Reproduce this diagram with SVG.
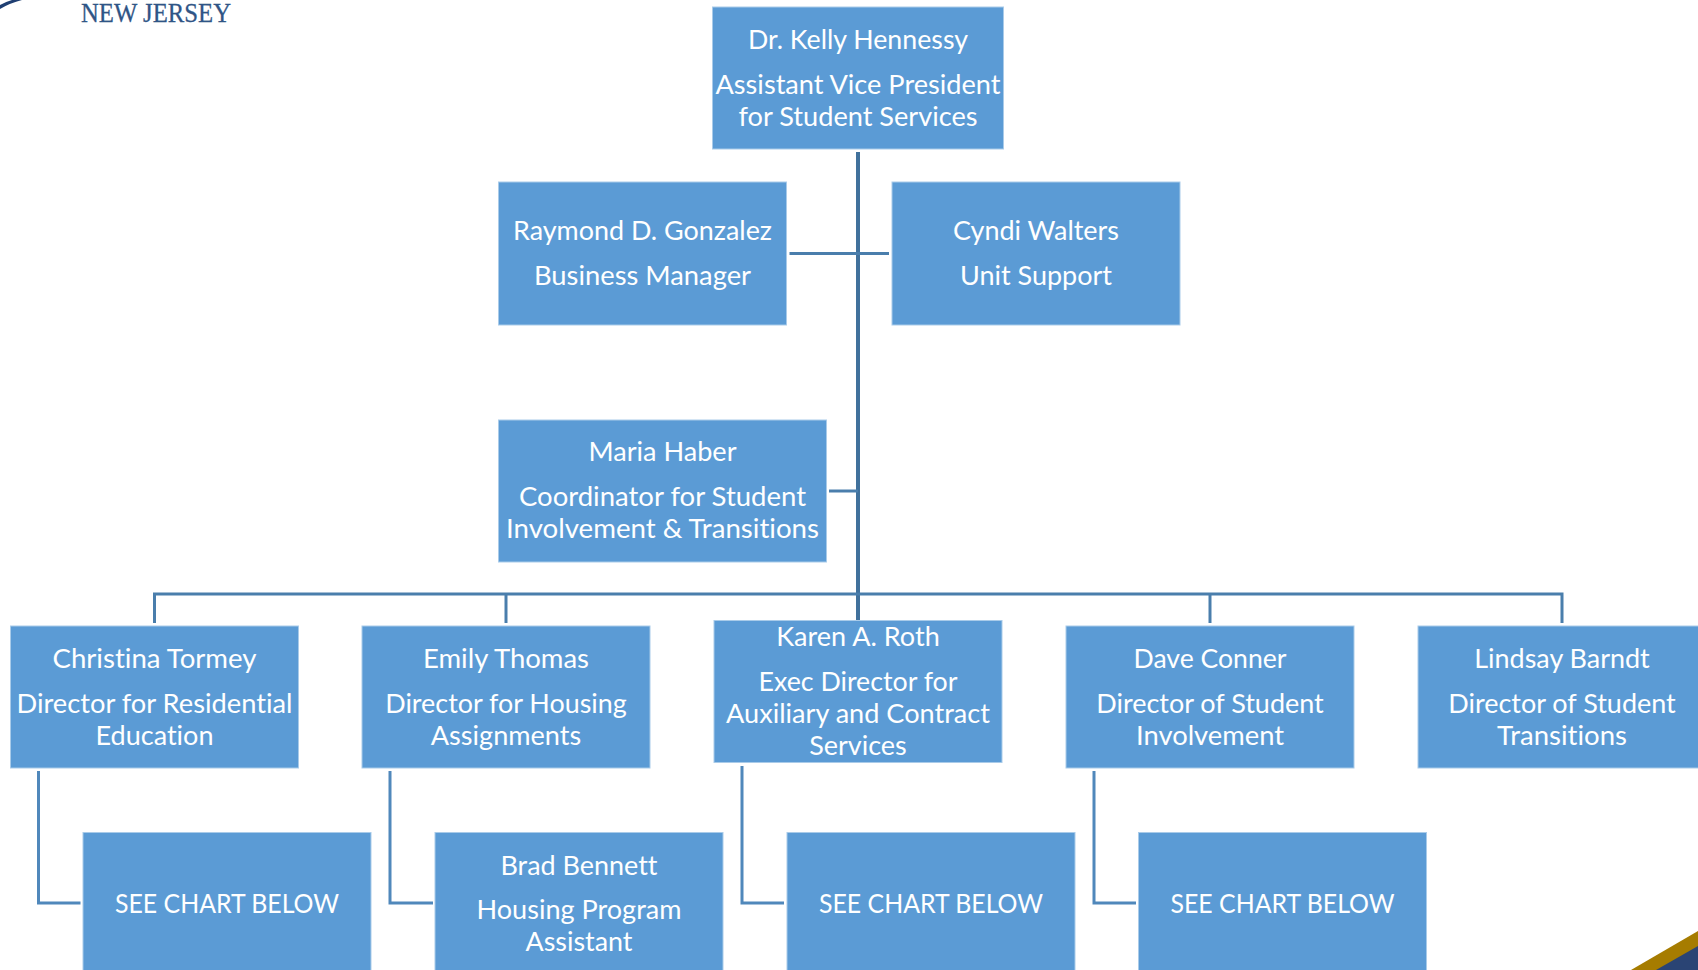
<svg xmlns="http://www.w3.org/2000/svg" width="1698" height="970" viewBox="0 0 1698 970">
<style>
.box{fill:#5b9bd5;stroke:#a9cbe9;stroke-width:1}
.t{font-family:"Lato","Carlito","Liberation Sans",sans-serif;font-size:27.5px;fill:#fff;text-anchor:middle;font-variant-ligatures:none}
.c{fill:none;stroke:#4a7eac;stroke-width:3}
.c2{fill:none;stroke:#41719c;stroke-width:4}
.c3{fill:none;stroke:#5088bb;stroke-width:3}
</style>
<rect width="1698" height="970" fill="#fff"/>
<g id="logo">
<path d="M0 9Q10 3 22 0L12 0Q5 2 0 5Z" fill="#1f3f72"/>
<text x="81" y="22" font-family="Liberation Serif,serif" font-size="28px" fill="#2f5586" stroke="#2f5586" stroke-width="0.3" textLength="150" lengthAdjust="spacingAndGlyphs">NEW JERSEY</text>
</g>
<g id="corner">
<polygon points="1631,970 1698,931 1698,970" fill="#a67c00"/>
<polygon points="1656,970 1698,946 1698,970" fill="#2a4474"/>
</g>
<g id="connectors">
<path class="c2" d="M858 152V620"/>
<path class="c" d="M789.500 253.500H889"/>
<path class="c" d="M829 491H858"/>
<path class="c" d="M154.500 623V594H1562V623"/>
<path class="c" d="M506 623V594"/>
<path class="c" d="M1210 623V594"/>
<path class="c3" d="M38.500 771V903H80.500"/>
<path class="c3" d="M390 771V903H433"/>
<path class="c3" d="M742 766V903H784"/>
<path class="c3" d="M1094 771V903H1136"/>
</g>
<g id="n1"><rect class="box" x="712.500" y="7" width="291" height="142"/><text class="t" x="858" y="48.500" textLength="220" lengthAdjust="spacingAndGlyphs">Dr. Kelly Hennessy</text><text class="t" x="858" y="93.500" textLength="285" lengthAdjust="spacingAndGlyphs">Assistant Vice President</text><text class="t" x="858" y="125.500" textLength="239" lengthAdjust="spacingAndGlyphs">for Student Services</text></g>
<g id="n2"><rect class="box" x="498.500" y="182" width="288" height="143"/><text class="t" x="642.500" y="240" textLength="259" lengthAdjust="spacingAndGlyphs">Raymond D. Gonzalez</text><text class="t" x="642.500" y="285" textLength="217" lengthAdjust="spacingAndGlyphs">Business Manager</text></g>
<g id="n3"><rect class="box" x="892" y="182" width="288" height="143"/><text class="t" x="1036" y="240" textLength="166" lengthAdjust="spacingAndGlyphs">Cyndi Walters</text><text class="t" x="1036" y="285" textLength="152" lengthAdjust="spacingAndGlyphs">Unit Support</text></g>
<g id="n4"><rect class="box" x="498.500" y="420" width="328" height="142"/><text class="t" x="662.500" y="461" textLength="148" lengthAdjust="spacingAndGlyphs">Maria Haber</text><text class="t" x="662.500" y="506" textLength="287" lengthAdjust="spacingAndGlyphs">Coordinator for Student</text><text class="t" x="662.500" y="538" textLength="313" lengthAdjust="spacingAndGlyphs">Involvement &amp; Transitions</text></g>
<g id="n5"><rect class="box" x="10.500" y="626" width="288" height="142"/><text class="t" x="154.500" y="668" textLength="204" lengthAdjust="spacingAndGlyphs">Christina Tormey</text><text class="t" x="154.500" y="712.500" textLength="276" lengthAdjust="spacingAndGlyphs">Director for Residential</text><text class="t" x="154.500" y="744.500" textLength="118" lengthAdjust="spacingAndGlyphs">Education</text></g>
<g id="n6"><rect class="box" x="362" y="626" width="288" height="142"/><text class="t" x="506" y="668" textLength="166" lengthAdjust="spacingAndGlyphs">Emily Thomas</text><text class="t" x="506" y="712.500" textLength="241.500" lengthAdjust="spacingAndGlyphs">Director for Housing</text><text class="t" x="506" y="744.500" textLength="150.500" lengthAdjust="spacingAndGlyphs">Assignments</text></g>
<g id="n7"><rect class="box" x="714" y="620.500" width="288" height="142"/><text class="t" x="858" y="646" textLength="163.500" lengthAdjust="spacingAndGlyphs">Karen A. Roth</text><text class="t" x="858" y="691" textLength="199" lengthAdjust="spacingAndGlyphs">Exec Director for</text><text class="t" x="858" y="723" textLength="264" lengthAdjust="spacingAndGlyphs">Auxiliary and Contract</text><text class="t" x="858" y="755" textLength="97.500" lengthAdjust="spacingAndGlyphs">Services</text></g>
<g id="n8"><rect class="box" x="1066" y="626" width="288" height="142"/><text class="t" x="1210" y="668" textLength="153" lengthAdjust="spacingAndGlyphs">Dave Conner</text><text class="t" x="1210" y="712.500" textLength="227.500" lengthAdjust="spacingAndGlyphs">Director of Student</text><text class="t" x="1210" y="744.500" textLength="148" lengthAdjust="spacingAndGlyphs">Involvement</text></g>
<g id="n9"><rect class="box" x="1418" y="626" width="288" height="142"/><text class="t" x="1562" y="668" textLength="175.500" lengthAdjust="spacingAndGlyphs">Lindsay Barndt</text><text class="t" x="1562" y="712.500" textLength="227.500" lengthAdjust="spacingAndGlyphs">Director of Student</text><text class="t" x="1562" y="744.500" textLength="130" lengthAdjust="spacingAndGlyphs">Transitions</text></g>
<g id="n10"><rect class="box" x="83" y="832.500" width="288" height="142"/><text class="t" x="227" y="913" textLength="224" lengthAdjust="spacingAndGlyphs">SEE CHART BELOW</text></g>
<g id="n11"><rect class="box" x="435" y="832.500" width="288" height="142"/><text class="t" x="579" y="875" textLength="157" lengthAdjust="spacingAndGlyphs">Brad Bennett</text><text class="t" x="579" y="919" textLength="205" lengthAdjust="spacingAndGlyphs">Housing Program</text><text class="t" x="579" y="951" textLength="107" lengthAdjust="spacingAndGlyphs">Assistant</text></g>
<g id="n12"><rect class="box" x="787" y="832.500" width="288" height="142"/><text class="t" x="931" y="913" textLength="224" lengthAdjust="spacingAndGlyphs">SEE CHART BELOW</text></g>
<g id="n13"><rect class="box" x="1138.500" y="832.500" width="288" height="142"/><text class="t" x="1282.500" y="913" textLength="224" lengthAdjust="spacingAndGlyphs">SEE CHART BELOW</text></g>
</svg>
